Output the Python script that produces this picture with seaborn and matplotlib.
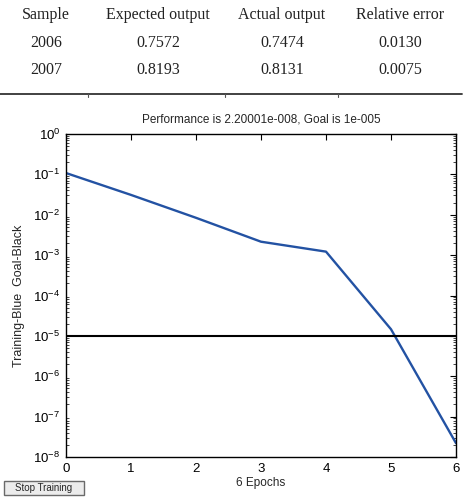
import numpy as np
import pandas as pd
import matplotlib
matplotlib.use("Agg")
import matplotlib.pyplot as plt
import matplotlib.ticker as mticker
from matplotlib.lines import Line2D
from matplotlib.patches import Rectangle
import seaborn as sns

# ---- data ----
table_header = ["Sample", "Expected output", "Actual output", "Relative error"]
samples = ["2006", "2007"]
expected_output = ["0.7572", "0.8193"]
actual_output = ["0.7474", "0.8131"]
relative_error = ["0.0130", "0.0075"]

epochs = [0, 1, 2, 3, 4, 5, 6]
training_perf = [0.108, 0.031, 0.0084, 0.00215, 0.00122, 1.46e-5, 2.20001e-8]
goal_value = 1e-5
goal_x = [0, 6]
goal_y = [goal_value, goal_value]

title = "Performance is 2.20001e-008, Goal is 1e-005"
xlabel = "6 Epochs"
ylabel = "Training-Blue  Goal-Black"
button_text = "Stop Training"

# ---- style ----
sns.set_style("white")
plt.rcParams["font.family"] = ["Liberation Sans", "DejaVu Sans"]
plt.rcParams["mathtext.fontset"] = "custom"
plt.rcParams["mathtext.rm"] = "Liberation Sans"
plt.rcParams["mathtext.it"] = "Liberation Sans:italic"

W, H = 464, 498
fig = plt.figure(figsize=(W / 100, H / 100), dpi=100)
fig.patch.set_facecolor("white")

def fx(px):
    return px / W

def fy(py):
    return 1 - py / H

# ---- table at top ----
col_x = [46, 158, 282, 400]
row_y = [15, 43, 70]
serif = ["Liberation Serif", "DejaVu Serif"]
for cx, t in zip(col_x, table_header):
    fig.text(fx(cx), fy(row_y[0]), t, ha="center", va="center",
             fontsize=11.5, family=serif, color="#222222")
for r, row in enumerate(zip(samples, expected_output, actual_output, relative_error)):
    for cx, t in zip(col_x, row):
        fig.text(fx(cx), fy(row_y[r + 1]), t, ha="center", va="center",
                 fontsize=11.5, family=serif, color="#222222")
fig.add_artist(Line2D([fx(0), fx(462)], [fy(94), fy(94)], color="#333333",
                      lw=1.3, transform=fig.transFigure))
for tx in [88, 225, 338]:
    fig.add_artist(Line2D([fx(tx), fx(tx)], [fy(94), fy(97)], color="#555555",
                          lw=0.8, transform=fig.transFigure))

# ---- plot ----
ax = fig.add_axes([fx(66), fy(457), fx(456) - fx(66), fy(134) - fy(457)])
df = pd.DataFrame({"epoch": epochs, "perf": training_perf})
gdf = pd.DataFrame({"epoch": goal_x, "goal": goal_y})
sns.lineplot(data=df, x="epoch", y="perf", ax=ax, color="#2352a3", lw=1.7)
sns.lineplot(data=gdf, x="epoch", y="goal", ax=ax, color="black", lw=1.5)

ax.set_yscale("log")
ax.set_xlim(0, 6)
ax.set_ylim(1e-8, 1)
ax.set_xticks(range(0, 7))
ax.yaxis.set_major_locator(mticker.LogLocator(base=10, numticks=20))
ax.yaxis.set_minor_locator(mticker.LogLocator(base=10, subs=np.arange(2, 10), numticks=20))
ax.yaxis.set_major_formatter(mticker.LogFormatterSciNotation())
ax.yaxis.set_minor_formatter(mticker.NullFormatter())
ax.tick_params(axis="both", which="major", direction="in", length=4, width=0.8,
               top=True, right=True, labelsize=9.5, colors="black", pad=4)
ax.tick_params(axis="y", which="minor", direction="in", length=2, width=0.6,
               left=True, right=True)
for s in ax.spines.values():
    s.set_color("black")
    s.set_linewidth(1.0)
ax.set_xlabel(xlabel, fontsize=8.5, labelpad=2)
ax.set_ylabel(ylabel, fontsize=9, labelpad=6)
ax.set_title(title, fontsize=8.5, pad=8)
ax.grid(False)

# ---- Stop Training button ----
btn = Rectangle((fx(4), fy(495)), fx(80), fy(481) - fy(495),
                transform=fig.transFigure, facecolor="#ececec",
                edgecolor="#6a6a6a", lw=1.0)
fig.add_artist(btn)
fig.text(fx(44), fy(488), button_text, ha="center", va="center", fontsize=7)

fig.savefig("out.png", dpi=100)
